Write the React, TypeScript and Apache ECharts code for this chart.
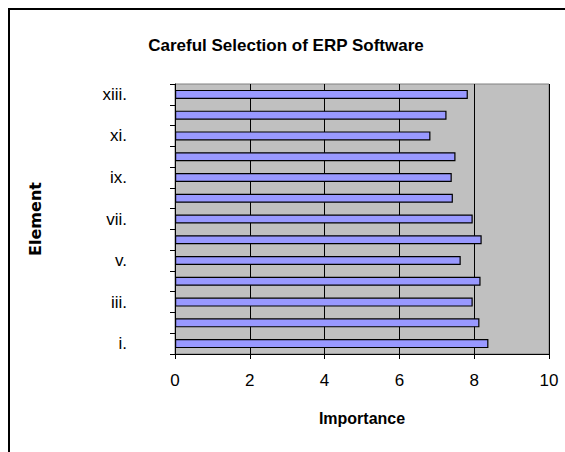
import React, { useEffect, useRef } from "react";
import * as echarts from "echarts";

const categories = ["i.", "ii.", "iii.", "iv.", "v.", "vi.", "vii.", "viii.", "ix.", "x.", "xi.", "xii.", "xiii."];
const importance = [8.38, 8.14, 7.96, 8.17, 7.64, 8.2, 7.96, 7.43, 7.4, 7.5, 6.83, 7.26, 7.83];
const xTicks = { min: 0, max: 10, interval: 2 };

const FONT = "'Liberation Sans', Arial, sans-serif";

export default function App() {
  const ref = useRef<HTMLDivElement>(null);
  useEffect(() => {
    if (!ref.current) return;
    const chart = echarts.init(ref.current, undefined, { renderer: "svg" });
    chart.setOption({
      animation: false,
      backgroundColor: "#ffffff",
      title: {
        text: "Careful Selection of ERP Software",
        left: 281,
        textAlign: "center",
        top: 32,
        textStyle: { fontFamily: FONT, fontSize: 17, fontWeight: "bold", color: "#000" },
      },
      graphic: [
        {
          type: "rect",
          shape: { x: 9, y: 9, width: 700, height: 700 },
          style: { fill: "none", stroke: "#000", lineWidth: 2 },
          silent: true,
        },
      ],
      grid: {
        left: 175,
        right: 16,
        top: 84,
        bottom: 98,
        show: true,
        backgroundColor: "#c0c0c0",
        borderColor: "#808080",
        borderWidth: 1,
      },
      xAxis: {
        type: "value",
        min: xTicks.min,
        max: xTicks.max,
        interval: xTicks.interval,
        name: "Importance",
        nameLocation: "middle",
        nameGap: 56,
        nameTextStyle: { fontFamily: FONT, fontSize: 16, fontWeight: "bold", color: "#000" },
        axisLine: { show: true, lineStyle: { color: "#000", width: 1 } },
        axisTick: { show: true, length: 5, lineStyle: { color: "#000" } },
        axisLabel: { fontFamily: FONT, fontSize: 17, color: "#000", margin: 18 },
        splitLine: { show: true, lineStyle: { color: "#000", width: 1 } },
      },
      yAxis: {
        type: "category",
        data: categories,
        name: "Element",
        nameLocation: "middle",
        nameGap: 132,
        nameRotate: 90,
        nameTextStyle: { fontFamily: "'DejaVu Sans', sans-serif", fontSize: 16, fontWeight: "bold", color: "#000" },
        axisLine: { show: true, lineStyle: { color: "#000", width: 1 } },
        axisTick: { show: true, length: 5, interval: 0, lineStyle: { color: "#000" } },
        axisLabel: { fontFamily: FONT, fontSize: 17, color: "#000", margin: 48, interval: 1 },
        splitLine: { show: false },
      },
      series: [
        {
          type: "bar",
          data: importance,
          barWidth: 9,
          itemStyle: { color: "#9999ff", borderColor: "#000", borderWidth: 1.2 },
        },
      ],
    });
    return () => chart.dispose();
  }, []);
  return <div ref={ref} style={{ position: "fixed", left: 0, top: 0, width: 565, height: 452 }} />;
}
